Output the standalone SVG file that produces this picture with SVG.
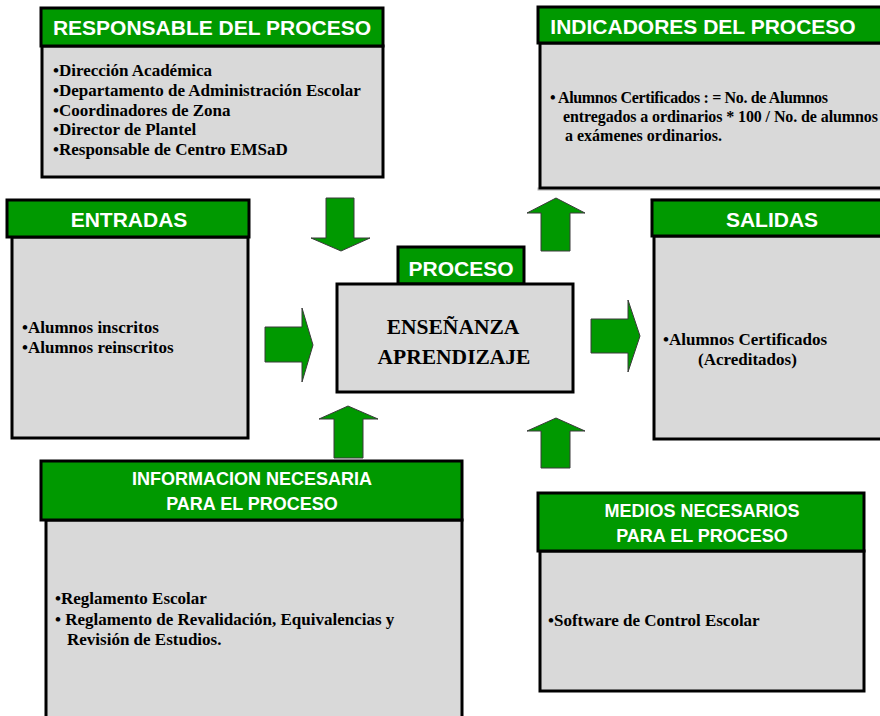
<svg xmlns="http://www.w3.org/2000/svg" width="880" height="716" viewBox="0 0 880 716">
<style>
.hd{fill:#009900;stroke:#000;stroke-width:3}
.bd{fill:#d9d9d9;stroke:#000;stroke-width:3}
.sh{fill:none;stroke:#b0b0b0;stroke-width:1}
.ht{font-family:"Liberation Sans",Arial,sans-serif;font-weight:bold;fill:#fff;text-anchor:middle}
.bt{font-family:"Liberation Serif","Times New Roman",serif;font-weight:bold;fill:#000}
.b17{font-size:17px}
.b15{font-size:16px}
.b23{font-size:21.5px}
.h21{font-size:21px}
.h18{font-size:18px}
.ar{fill:#009900;stroke:#3a3a3a;stroke-width:1}
</style>
<rect width="880" height="716" fill="#fff"/>

<g id="connectors">
<polygon class="ar" points="326,198 354,198 354,238 370,238 341,251 311,238 326,238"/>
<polygon class="ar" points="541,251 570,251 570,213 585,213 556,198 527,213 541,213"/>
<polygon class="ar" points="265,327 302,327 302,308 313,345 302,382 302,362 265,362"/>
<polygon class="ar" points="591,319 628,319 628,300 640,336 628,372 628,353 591,353"/>
<polygon class="ar" points="334,458 363,458 363,419 378,419 348,406 319,419 334,419"/>
<polygon class="ar" points="541,468 570,468 570,431 585,431 556,418 527,431 541,431"/>
</g>

<g id="responsable">
<rect class="bd" x="42" y="46" width="341" height="131"/>
<rect class="hd" x="41" y="8" width="342" height="38"/>
<text class="ht h21" x="212" y="35">RESPONSABLE DEL PROCESO</text>
<text class="bt b17" x="53" y="76">•Dirección Académica</text>
<text class="bt b17" x="53" y="96">•Departamento de Administración Escolar</text>
<text class="bt b17" x="53" y="116">•Coordinadores de Zona</text>
<text class="bt b17" x="53" y="135">•Director de Plantel</text>
<text class="bt b17" x="53" y="155">•Responsable de Centro EMSaD</text>
</g>

<g id="indicadores">
<rect class="sh" x="538" y="188" width="350" height="2"/>
<rect class="bd" x="540" y="43" width="350" height="145"/>
<rect class="hd" x="538" y="7" width="352" height="36"/>
<text class="ht h21" x="703" y="34">INDICADORES DEL PROCESO</text>
<text class="bt b15" x="550" y="103" textLength="278" lengthAdjust="spacing">• Alumnos Certificados : = No. de Alumnos</text>
<text class="bt b15" x="563" y="122" textLength="315" lengthAdjust="spacing">entregados a ordinarios * 100 / No. de alumnos</text>
<text class="bt b15" x="565" y="141" textLength="157" lengthAdjust="spacing">a exámenes ordinarios.</text>
</g>

<g id="entradas">
<rect class="bd" x="12" y="237" width="236" height="201"/>
<rect class="hd" x="7" y="200" width="242" height="37"/>
<text class="ht h21" x="129" y="227">ENTRADAS</text>
<text class="bt b17" x="22" y="333">•Alumnos inscritos</text>
<text class="bt b17" x="22" y="353">•Alumnos reinscritos</text>
</g>

<g id="proceso">
<rect class="hd" x="398" y="247" width="126" height="37"/>
<text class="ht h21" x="461" y="276">PROCESO</text>
<rect class="bd" x="337" y="284" width="236" height="108"/>
<text class="bt b23" x="453" y="334" text-anchor="middle">ENSEÑANZA</text>
<text class="bt b23" x="454" y="364" text-anchor="middle">APRENDIZAJE</text>
</g>

<g id="salidas">
<rect class="sh" x="651" y="199" width="240" height="1"/>
<rect class="bd" x="654" y="236" width="236" height="203"/>
<rect class="hd" x="652" y="200" width="238" height="36"/>
<text class="ht h21" x="772" y="227">SALIDAS</text>
<text class="bt b17" x="663" y="345">•Alumnos Certificados</text>
<text class="bt b17" x="698" y="365">(Acreditados)</text>
</g>

<g id="informacion">
<rect class="bd" x="46" y="520" width="416" height="210"/>
<rect class="hd" x="41" y="461" width="421" height="59"/>
<text class="ht h18" x="252" y="485">INFORMACION NECESARIA</text>
<text class="ht h18" x="252" y="510">PARA EL PROCESO</text>
<text class="bt b17" x="55" y="604">•Reglamento Escolar</text>
<text class="bt b17" x="55" y="625">• Reglamento de Revalidación, Equivalencias y</text>
<text class="bt b17" x="67" y="645">Revisión de Estudios.</text>
</g>

<g id="medios">
<rect class="bd" x="540" y="551" width="324" height="140"/>
<rect class="hd" x="538" y="493" width="326" height="58"/>
<text class="ht h18" x="702" y="517">MEDIOS NECESARIOS</text>
<text class="ht h18" x="702" y="542">PARA EL PROCESO</text>
<text class="bt b17" x="548" y="626">•Software de Control Escolar</text>
</g>
</svg>
